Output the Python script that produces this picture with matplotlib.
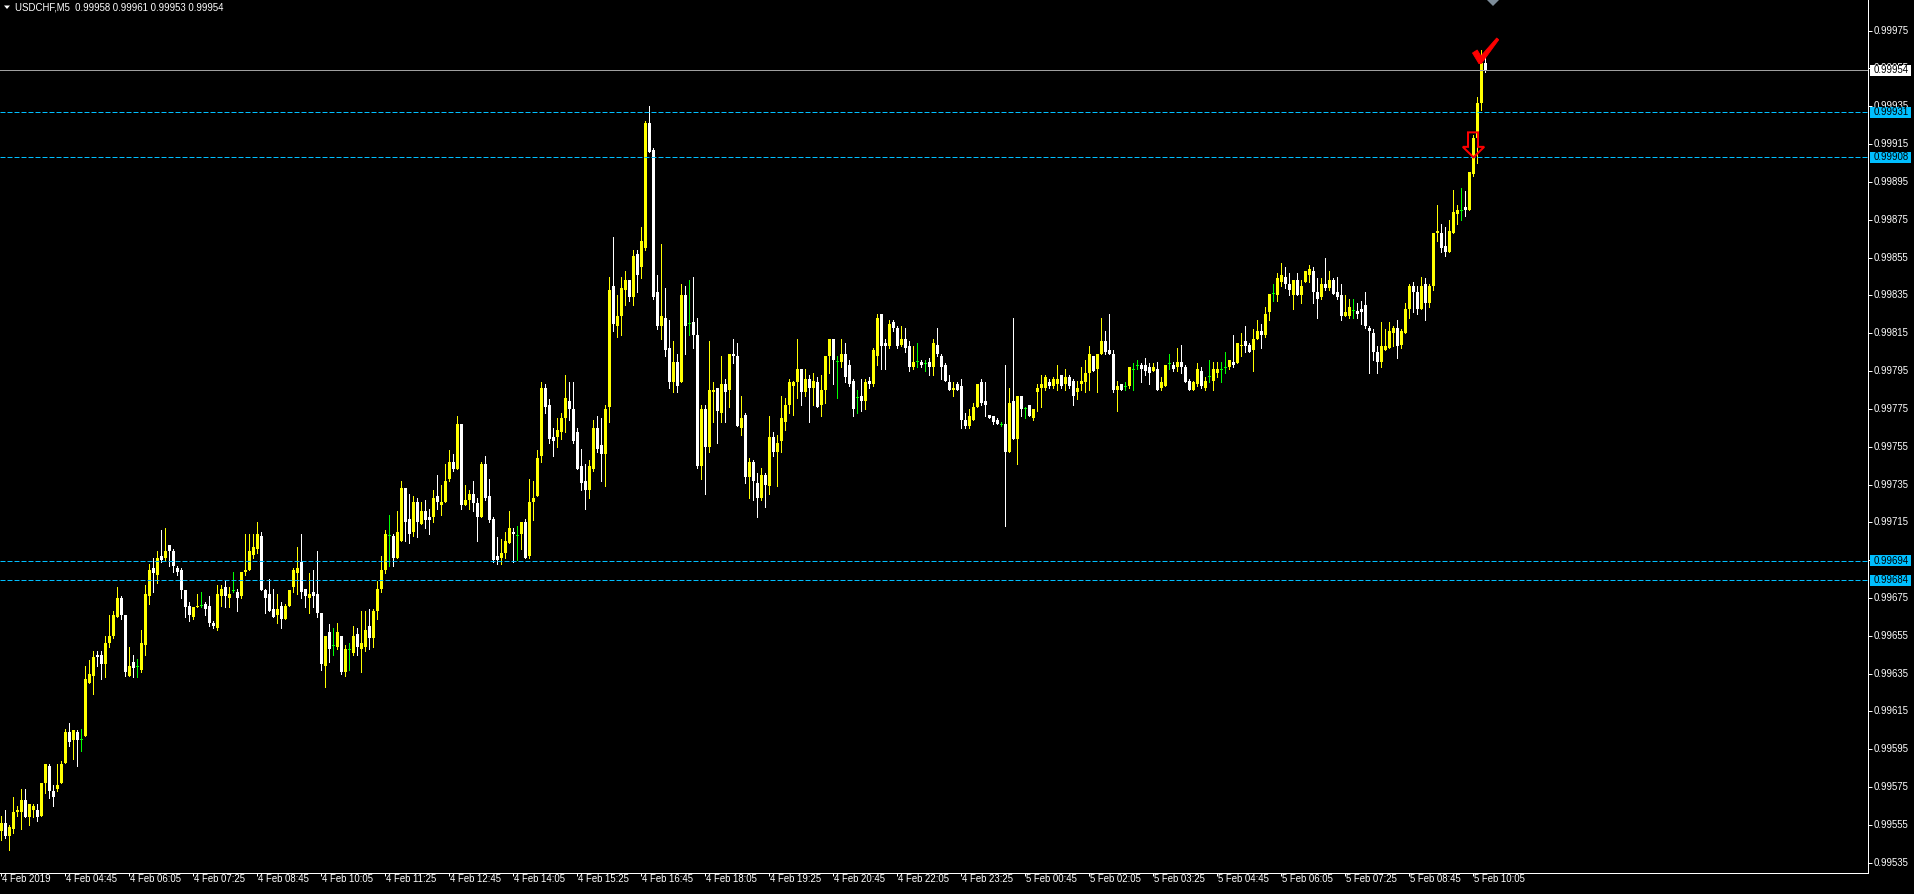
import matplotlib
matplotlib.use("Agg")
import matplotlib.pyplot as plt
from matplotlib.patches import Polygon, Rectangle
from matplotlib.transforms import IdentityTransform, blended_transform_factory
import numpy as np

plt.rcParams['font.family'] = ['Liberation Sans', 'DejaVu Sans']

# ---------------- data ----------------
symbol_title = "USDCHF,M5  0.99958 0.99961 0.99953 0.99954"

opens = [
 0.99552,0.99556,0.99549,0.99553,0.99562,0.99562,0.99568,0.99559,0.99563,0.99563,
 0.99560,0.99577,0.99586,0.99573,0.99574,0.99577,0.99588,0.99604,0.99600,0.99604,
 0.99600,0.99602,0.99630,0.99634,0.99645,0.99645,0.99640,0.99651,0.99655,0.99665,
 0.99675,0.99666,0.99634,0.99641,0.99639,0.99637,0.99650,0.99676,0.99691,0.99687,
 0.99697,0.99696,0.99703,0.99700,0.99691,0.99690,0.99679,0.99671,0.99665,0.99670,
 0.99671,0.99672,0.99671,0.99662,0.99659,0.99676,0.99681,0.99675,0.99679,0.99678,
 0.99676,0.99689,0.99690,0.99698,0.99701,0.99708,0.99679,0.99677,0.99669,0.99666,
 0.99671,0.99664,0.99671,0.99681,0.99688,0.99694,0.99680,0.99675,0.99678,0.99677,
 0.99667,0.99639,0.99657,0.99650,0.99649,0.99655,0.99636,0.99648,0.99646,0.99656,
 0.99648,0.99649,0.99660,0.99654,0.99668,0.99680,0.99690,0.99708,0.99708,0.99696,
 0.99705,0.99733,0.99717,0.99710,0.99726,0.99714,0.99721,0.99718,0.99718,0.99729,
 0.99724,0.99726,0.99738,0.99747,0.99743,0.99767,0.99724,0.99727,0.99730,0.99725,
 0.99718,0.99746,0.99729,0.99717,0.99697,0.99696,0.99699,0.99704,0.99710,0.99708,
 0.99709,0.99715,0.99697,0.99726,0.99729,0.99750,0.99786,0.99777,0.99760,0.99760,
 0.99763,0.99770,0.99779,0.99775,0.99763,0.99745,0.99737,0.99732,0.99743,0.99765,
 0.99756,0.99751,0.99776,0.99840,0.99819,0.99824,0.99838,0.99843,0.99834,0.99857,
 0.99850,0.99860,0.99926,0.99912,0.99837,0.99819,0.99823,0.99807,0.99789,0.99800,
 0.99789,0.99835,0.99820,0.99821,0.99814,0.99745,0.99775,0.99755,0.99784,0.99786,
 0.99773,0.99788,0.99785,0.99804,0.99803,0.99765,0.99772,0.99739,0.99747,0.99736,
 0.99728,0.99740,0.99734,0.99760,0.99752,0.99758,0.99768,0.99777,0.99787,0.99789,
 0.99796,0.99784,0.99791,0.99786,0.99789,0.99777,0.99785,0.99803,0.99812,0.99800,
 0.99800,0.99804,0.99798,0.99790,0.99781,0.99782,0.99779,0.99790,0.99788,0.99803,
 0.99825,0.99810,0.99808,0.99821,0.99818,0.99809,0.99812,0.99808,0.99797,0.99800,
 0.99800,0.99799,0.99800,0.99797,0.99809,0.99803,0.99798,0.99789,0.99785,0.99788,
 0.99787,0.99769,0.99766,0.99769,0.99776,0.99789,0.99779,0.99772,0.99771,0.99769,
 0.99767,0.99767,0.99752,0.99779,0.99759,0.99782,0.99775,0.99777,0.99770,0.99784,
 0.99786,0.99786,0.99789,0.99787,0.99788,0.99793,0.99788,0.99792,0.99790,0.99784,
 0.99788,0.99789,0.99794,0.99803,0.99796,0.99804,0.99811,0.99806,0.99804,0.99785,
 0.99788,0.99787,0.99787,0.99796,0.99798,0.99798,0.99798,0.99797,0.99795,0.99796,
 0.99786,0.99787,0.99799,0.99798,0.99797,0.99800,0.99797,0.99790,0.99785,0.99788,
 0.99795,0.99786,0.99792,0.99790,0.99794,0.99796,0.99797,0.99797,0.99800,0.99799,
 0.99808,0.99811,0.99809,0.99806,0.99812,0.99816,0.99814,0.99826,0.99836,0.99835,
 0.99842,0.99845,0.99841,0.99835,0.99843,0.99835,0.99842,0.99846,0.99848,0.99837,
 0.99834,0.99841,0.99839,0.99843,0.99837,0.99835,0.99824,0.99824,0.99827,0.99827,
 0.99828,0.99830,0.99818,0.99815,0.99805,0.99800,0.99806,0.99807,0.99815,0.99818,
 0.99809,0.99815,0.99828,0.99840,0.99837,0.99828,0.99841,0.99831,0.99840,0.99868,
 0.99868,0.99861,0.99858,0.99868,0.99878,0.99880,0.99882,0.99880,0.99899,0.99918,
 0.99937,0.99958]

highs = [
 0.99560,0.99563,0.99555,0.99570,0.99565,0.99574,0.99574,0.99566,0.99566,0.99566,
 0.99577,0.99587,0.99587,0.99576,0.99587,0.99589,0.99606,0.99609,0.99605,0.99605,
 0.99606,0.99639,0.99642,0.99647,0.99647,0.99647,0.99655,0.99666,0.99668,0.99681,
 0.99676,0.99666,0.99649,0.99645,0.99643,0.99658,0.99682,0.99693,0.99696,0.99700,
 0.99711,0.99712,0.99703,0.99701,0.99692,0.99691,0.99679,0.99673,0.99670,0.99677,
 0.99678,0.99673,0.99676,0.99663,0.99682,0.99682,0.99684,0.99681,0.99689,0.99680,
 0.99689,0.99709,0.99709,0.99709,0.99715,0.99710,0.99680,0.99685,0.99680,0.99677,
 0.99673,0.99672,0.99679,0.99691,0.99702,0.99709,0.99680,0.99688,0.99690,0.99700,
 0.99667,0.99655,0.99661,0.99659,0.99662,0.99655,0.99650,0.99651,0.99660,0.99659,
 0.99668,0.99668,0.99669,0.99669,0.99684,0.99697,0.99711,0.99719,0.99709,0.99721,
 0.99737,0.99733,0.99730,0.99729,0.99728,0.99726,0.99727,0.99722,0.99732,0.99740,
 0.99735,0.99746,0.99753,0.99751,0.99771,0.99767,0.99735,0.99732,0.99737,0.99728,
 0.99747,0.99750,0.99738,0.99718,0.99707,0.99706,0.99710,0.99721,0.99712,0.99713,
 0.99715,0.99717,0.99738,0.99737,0.99753,0.99789,0.99788,0.99780,0.99765,0.99770,
 0.99773,0.99793,0.99789,0.99789,0.99765,0.99754,0.99746,0.99748,0.99769,0.99771,
 0.99770,0.99777,0.99845,0.99866,0.99835,0.99845,0.99848,0.99843,0.99859,0.99859,
 0.99871,0.99927,0.99935,0.99913,0.99846,0.99862,0.99839,0.99822,0.99811,0.99804,
 0.99841,0.99840,0.99843,0.99845,0.99823,0.99777,0.99777,0.99811,0.99789,0.99786,
 0.99803,0.99791,0.99804,0.99812,0.99810,0.99782,0.99773,0.99749,0.99748,0.99741,
 0.99744,0.99741,0.99771,0.99763,0.99761,0.99782,0.99781,0.99791,0.99790,0.99812,
 0.99796,0.99796,0.99793,0.99794,0.99792,0.99793,0.99803,0.99812,0.99812,0.99803,
 0.99812,0.99810,0.99801,0.99791,0.99785,0.99791,0.99791,0.99792,0.99807,0.99825,
 0.99825,0.99812,0.99822,0.99822,0.99819,0.99819,0.99818,0.99811,0.99808,0.99810,
 0.99801,0.99801,0.99802,0.99812,0.99818,0.99804,0.99799,0.99793,0.99789,0.99789,
 0.99791,0.99773,0.99775,0.99778,0.99788,0.99791,0.99789,0.99772,0.99771,0.99770,
 0.99768,0.99798,0.99786,0.99823,0.99782,0.99782,0.99776,0.99777,0.99775,0.99788,
 0.99793,0.99793,0.99791,0.99792,0.99798,0.99793,0.99796,0.99793,0.99791,0.99790,
 0.99797,0.99801,0.99808,0.99803,0.99804,0.99823,0.99816,0.99825,0.99806,0.99790,
 0.99788,0.99789,0.99797,0.99799,0.99801,0.99799,0.99802,0.99799,0.99799,0.99800,
 0.99792,0.99798,0.99804,0.99800,0.99807,0.99809,0.99798,0.99791,0.99790,0.99799,
 0.99797,0.99792,0.99801,0.99800,0.99800,0.99800,0.99805,0.99801,0.99814,0.99810,
 0.99815,0.99819,0.99810,0.99817,0.99822,0.99820,0.99829,0.99836,0.99841,0.99847,
 0.99852,0.99850,0.99847,0.99843,0.99847,0.99843,0.99848,0.99851,0.99850,0.99844,
 0.99844,0.99855,0.99848,0.99844,0.99845,0.99841,0.99835,0.99833,0.99833,0.99831,
 0.99832,0.99837,0.99819,0.99817,0.99808,0.99821,0.99817,0.99821,0.99819,0.99822,
 0.99817,0.99831,0.99841,0.99842,0.99840,0.99845,0.99844,0.99841,0.99868,0.99883,
 0.99873,0.99871,0.99875,0.99891,0.99883,0.99892,0.99890,0.99900,0.99920,0.99940,
 0.99965,0.99961]

lows = [
 0.99547,0.99548,0.99542,0.99551,0.99560,0.99553,0.99559,0.99555,0.99559,0.99557,
 0.99560,0.99572,0.99569,0.99565,0.99573,0.99577,0.99588,0.99597,0.99590,0.99586,
 0.99594,0.99602,0.99630,0.99624,0.99639,0.99632,0.99633,0.99649,0.99654,0.99665,
 0.99664,0.99634,0.99634,0.99633,0.99633,0.99636,0.99645,0.99672,0.99678,0.99683,
 0.99694,0.99695,0.99692,0.99689,0.99687,0.99675,0.99665,0.99663,0.99664,0.99670,
 0.99670,0.99666,0.99660,0.99659,0.99658,0.99671,0.99670,0.99670,0.99678,0.99668,
 0.99675,0.99687,0.99690,0.99696,0.99699,0.99679,0.99667,0.99668,0.99665,0.99662,
 0.99659,0.99664,0.99671,0.99678,0.99677,0.99675,0.99670,0.99667,0.99670,0.99665,
 0.99637,0.99628,0.99641,0.99645,0.99648,0.99635,0.99634,0.99637,0.99645,0.99645,
 0.99636,0.99647,0.99648,0.99649,0.99664,0.99678,0.99688,0.99692,0.99692,0.99696,
 0.99705,0.99705,0.99704,0.99708,0.99707,0.99714,0.99712,0.99709,0.99715,0.99722,
 0.99719,0.99726,0.99737,0.99742,0.99743,0.99722,0.99724,0.99722,0.99721,0.99705,
 0.99718,0.99727,0.99715,0.99694,0.99693,0.99693,0.99696,0.99704,0.99694,0.99695,
 0.99701,0.99696,0.99696,0.99716,0.99729,0.99747,0.99773,0.99757,0.99750,0.99755,
 0.99759,0.99763,0.99769,0.99757,0.99743,0.99732,0.99722,0.99728,0.99742,0.99752,
 0.99737,0.99734,0.99768,0.99816,0.99813,0.99814,0.99830,0.99832,0.99830,0.99837,
 0.99844,0.99859,0.99911,0.99833,0.99817,0.99812,0.99803,0.99786,0.99784,0.99784,
 0.99789,0.99804,0.99814,0.99807,0.99744,0.99738,0.99730,0.99752,0.99768,0.99757,
 0.99768,0.99768,0.99776,0.99799,0.99766,0.99761,0.99736,0.99728,0.99727,0.99718,
 0.99727,0.99723,0.99730,0.99750,0.99734,0.99752,0.99764,0.99773,0.99772,0.99781,
 0.99777,0.99782,0.99768,0.99777,0.99776,0.99771,0.99778,0.99794,0.99788,0.99781,
 0.99797,0.99789,0.99787,0.99771,0.99773,0.99774,0.99775,0.99786,0.99787,0.99798,
 0.99796,0.99796,0.99807,0.99816,0.99807,0.99808,0.99805,0.99795,0.99796,0.99797,
 0.99797,0.99795,0.99793,0.99793,0.99803,0.99791,0.99790,0.99785,0.99782,0.99785,
 0.99765,0.99765,0.99765,0.99769,0.99776,0.99777,0.99771,0.99770,0.99767,0.99767,
 0.99766,0.99713,0.99752,0.99759,0.99746,0.99771,0.99770,0.99771,0.99769,0.99774,
 0.99776,0.99785,0.99786,0.99786,0.99785,0.99786,0.99785,0.99786,0.99777,0.99780,
 0.99785,0.99784,0.99785,0.99795,0.99784,0.99804,0.99804,0.99804,0.99784,0.99774,
 0.99785,0.99785,0.99786,0.99785,0.99796,0.99789,0.99793,0.99788,0.99795,0.99785,
 0.99785,0.99787,0.99796,0.99795,0.99795,0.99794,0.99789,0.99785,0.99785,0.99787,
 0.99786,0.99785,0.99789,0.99785,0.99792,0.99789,0.99794,0.99796,0.99797,0.99799,
 0.99803,0.99805,0.99805,0.99795,0.99812,0.99807,0.99813,0.99822,0.99832,0.99832,
 0.99840,0.99839,0.99835,0.99828,0.99835,0.99831,0.99842,0.99842,0.99831,0.99823,
 0.99833,0.99838,0.99838,0.99836,0.99833,0.99822,0.99824,0.99823,0.99823,0.99823,
 0.99820,0.99818,0.99794,0.99801,0.99794,0.99797,0.99806,0.99807,0.99808,0.99802,
 0.99807,0.99815,0.99823,0.99826,0.99825,0.99828,0.99822,0.99829,0.99838,0.99864,
 0.99858,0.99856,0.99858,0.99868,0.99873,0.99875,0.99877,0.99880,0.99898,0.99905,
 0.99933,0.99953]

closes = [
 0.99556,0.99549,0.99554,0.99562,0.99563,0.99568,0.99559,0.99566,0.99565,0.99559,
 0.99577,0.99587,0.99573,0.99570,0.99576,0.99587,0.99604,0.99599,0.99605,0.99600,
 0.99600,0.99632,0.99635,0.99644,0.99644,0.99640,0.99651,0.99655,0.99666,0.99675,
 0.99666,0.99636,0.99639,0.99638,0.99639,0.99651,0.99677,0.99690,0.99688,0.99696,
 0.99695,0.99700,0.99700,0.99692,0.99689,0.99679,0.99670,0.99666,0.99670,0.99671,
 0.99671,0.99669,0.99662,0.99660,0.99677,0.99680,0.99676,0.99677,0.99679,0.99675,
 0.99689,0.99690,0.99700,0.99702,0.99709,0.99679,0.99675,0.99668,0.99665,0.99669,
 0.99664,0.99671,0.99679,0.99690,0.99691,0.99678,0.99676,0.99677,0.99676,0.99667,
 0.99640,0.99655,0.99648,0.99650,0.99657,0.99636,0.99648,0.99648,0.99655,0.99649,
 0.99651,0.99658,0.99654,0.99668,0.99680,0.99690,0.99709,0.99708,0.99696,0.99710,
 0.99733,0.99715,0.99709,0.99726,0.99715,0.99721,0.99716,0.99716,0.99728,0.99726,
 0.99726,0.99737,0.99747,0.99743,0.99767,0.99724,0.99727,0.99730,0.99725,0.99718,
 0.99746,0.99728,0.99716,0.99695,0.99695,0.99699,0.99705,0.99712,0.99709,0.99708,
 0.99715,0.99696,0.99726,0.99728,0.99749,0.99786,0.99776,0.99759,0.99758,0.99764,
 0.99770,0.99781,0.99775,0.99758,0.99743,0.99736,0.99732,0.99745,0.99765,0.99754,
 0.99751,0.99775,0.99838,0.99820,0.99824,0.99839,0.99843,0.99834,0.99856,0.99846,
 0.99864,0.99926,0.99911,0.99834,0.99819,0.99824,0.99806,0.99789,0.99800,0.99787,
 0.99835,0.99819,0.99820,0.99814,0.99745,0.99775,0.99755,0.99785,0.99785,0.99774,
 0.99788,0.99784,0.99804,0.99803,0.99766,0.99770,0.99739,0.99747,0.99737,0.99728,
 0.99740,0.99735,0.99760,0.99752,0.99757,0.99770,0.99777,0.99789,0.99789,0.99796,
 0.99784,0.99791,0.99786,0.99790,0.99776,0.99785,0.99803,0.99812,0.99801,0.99800,
 0.99804,0.99792,0.99788,0.99775,0.99781,0.99779,0.99789,0.99788,0.99806,0.99823,
 0.99808,0.99808,0.99820,0.99818,0.99808,0.99812,0.99807,0.99797,0.99800,0.99800,
 0.99798,0.99799,0.99797,0.99810,0.99804,0.99797,0.99790,0.99785,0.99786,0.99785,
 0.99769,0.99766,0.99771,0.99776,0.99788,0.99778,0.99777,0.99770,0.99768,0.99767,
 0.99767,0.99752,0.99778,0.99759,0.99782,0.99775,0.99775,0.99771,0.99775,0.99786,
 0.99788,0.99792,0.99787,0.99791,0.99791,0.99787,0.99792,0.99787,0.99782,0.99786,
 0.99790,0.99794,0.99804,0.99795,0.99804,0.99811,0.99805,0.99804,0.99785,0.99787,
 0.99785,0.99787,0.99797,0.99796,0.99798,0.99796,0.99795,0.99794,0.99797,0.99785,
 0.99789,0.99798,0.99799,0.99796,0.99800,0.99797,0.99789,0.99785,0.99789,0.99796,
 0.99787,0.99790,0.99792,0.99796,0.99796,0.99796,0.99797,0.99801,0.99798,0.99810,
 0.99809,0.99808,0.99805,0.99812,0.99816,0.99814,0.99825,0.99836,0.99836,0.99844,
 0.99846,0.99841,0.99838,0.99843,0.99835,0.99840,0.99848,0.99849,0.99837,0.99833,
 0.99841,0.99839,0.99843,0.99836,0.99834,0.99824,0.99826,0.99829,0.99827,0.99825,
 0.99826,0.99819,0.99816,0.99805,0.99800,0.99808,0.99808,0.99816,0.99818,0.99808,
 0.99816,0.99828,0.99840,0.99837,0.99828,0.99840,0.99831,0.99840,0.99868,0.99869,
 0.99860,0.99858,0.99869,0.99879,0.99880,0.99880,0.99880,0.99900,0.99918,0.99937,
 0.99958,0.99954]

time_label_bars = [0, 16, 32, 48, 64, 80, 96, 112, 128, 144, 160, 176,
                   192, 208, 224, 240, 256, 272, 288, 304, 320, 336, 352, 368]
time_labels = ["4 Feb 2019", "4 Feb 04:45", "4 Feb 06:05", "4 Feb 07:25", "4 Feb 08:45",
               "4 Feb 10:05", "4 Feb 11:25", "4 Feb 12:45", "4 Feb 14:05", "4 Feb 15:25",
               "4 Feb 16:45", "4 Feb 18:05", "4 Feb 19:25", "4 Feb 20:45", "4 Feb 22:05",
               "4 Feb 23:25", "5 Feb 00:45", "5 Feb 02:05", "5 Feb 03:25", "5 Feb 04:45",
               "5 Feb 06:05", "5 Feb 07:25", "5 Feb 08:45", "5 Feb 10:05"]

price_ticks = [0.99535, 0.99555, 0.99575, 0.99595, 0.99615, 0.99635, 0.99655, 0.99675,
               0.99695, 0.99715, 0.99735, 0.99755, 0.99775, 0.99795, 0.99815, 0.99835,
               0.99855, 0.99875, 0.99895, 0.99915, 0.99935, 0.99955, 0.99975]

bid_price = 0.99954
# horizontal line objects: exact price and the (truncated) label MT4 shows
level_prices = [0.999318, 0.999080, 0.996946, 0.996843]
level_texts = ["0.99931", "0.99908", "0.99694", "0.99684"]

check_bar, check_price = 370, 0.99958       # red check mark object
arrow_bar, arrow_price = 368, 0.99908       # red down-arrow object

# ---------------- figure ----------------
W, H = 1915, 894
AX_W, AX_H, AX_B = 1868, 873, 21
BAR_PX = 4
Y_MIN, Y_MAX = 0.995296, 0.999912

fig = plt.figure(figsize=(W / 100, H / 100), dpi=100, facecolor='black')
ax = fig.add_axes([0, AX_B / H, AX_W / W, AX_H / H])
ax.set_facecolor('black')
x_left = -1.5 / BAR_PX
ax.set_xlim(x_left, x_left + AX_W / BAR_PX)
ax.set_ylim(Y_MIN, Y_MAX)
one_px = (Y_MAX - Y_MIN) / AX_H

o = np.array(opens); hi = np.array(highs); lo = np.array(lows); c = np.array(closes)
x = np.arange(len(o))
hi = np.maximum(hi, np.maximum(o, c))
lo = np.minimum(lo, np.minimum(o, c))
up = c > o
down = c < o
cols = np.where(up, '#ffff00', np.where(down, '#ffffff', '#00ff00'))

ax.vlines(x, lo, hi, colors=cols, linewidth=0.72, antialiased=False, zorder=2)
body_h = np.maximum(np.abs(c - o), one_px)
body_b = np.where(np.abs(c - o) < one_px, np.minimum(o, c) - one_px / 2, np.minimum(o, c))
ax.bar(x, body_h, bottom=body_b, width=0.75, color=cols, linewidth=0,
       antialiased=False, zorder=3)

ax.axhline(bid_price, color='#a0a0a0', lw=0.72, zorder=4)
for lv in level_prices:
    ax.axhline(lv, color='#00bfff', lw=0.72, dashes=(5, 2), zorder=4)

for s in ['left', 'top']:
    ax.spines[s].set_visible(False)
for s in ['right', 'bottom']:
    ax.spines[s].set_color('white')
    ax.spines[s].set_linewidth(0.72)

ax.set_xticks(time_label_bars)
ax.tick_params(axis='x', colors='white', length=3 * 0.72, width=0.72,
               direction='out', labelbottom=False)
ax.yaxis.tick_right()
ax.set_yticks(price_ticks)
ax.tick_params(axis='y', colors='white', length=4 * 0.72, width=0.72,
               direction='out', labelright=False, labelleft=False)

FS = 6.9
trans_x = blended_transform_factory(ax.transData, IdentityTransform())
for b, lab in zip(time_label_bars, time_labels):
    ax.text(b + 0.1, AX_B - 0.8, lab, transform=trans_x, ha='left', va='top',
            color='white', fontsize=FS, clip_on=False)

trans_y = blended_transform_factory(IdentityTransform(), ax.transData)
for p in price_ticks:
    ax.text(AX_W + 6, p, f'{p:.5f}', transform=trans_y, ha='left', va='center',
            color='white', fontsize=FS, clip_on=False, zorder=3)

def level_label(price, text, face):
    ax.add_patch(Rectangle((AX_W + 2, price - 5.5 * one_px), 41, 11 * one_px,
                           transform=trans_y, facecolor=face, edgecolor='none',
                           clip_on=False, zorder=6))
    ax.text(AX_W + 6, price, text, transform=trans_y, ha='left', va='center',
            color='black', fontsize=FS, clip_on=False, zorder=7)

for lv, lt in zip(level_prices, level_texts):
    level_label(lv, lt, '#00bfff')
level_label(bid_price, f'{bid_price:.5f}', '#ffffff')

# title
fig.text(15, H - 7.5, symbol_title, transform=IdentityTransform(), color='white',
         fontsize=FS, ha='left', va='center')
fig.add_artist(Polygon([[4, H - 5.5], [10, H - 5.5], [7, H - 9]], closed=True,
                       facecolor='white', edgecolor='none', transform=IdentityTransform()))

# chart-shift marker at top
fig.add_artist(Polygon([[1487, H], [1499, H], [1493, H - 6]], closed=True,
                       facecolor='#7d8c99', edgecolor='none', transform=IdentityTransform()))

# red check mark object
cx, cy = ax.transData.transform((check_bar, check_price))
check_shape = [(-9.0, -9.8), (-4.3, -12.8), (-0.6, -6.8), (15.2, -24.8),
               (17.2, -23.0), (-0.2, 0.8), (-2.6, 0.8)]
fig.add_artist(Polygon([[cx + dx, cy - dy] for dx, dy in check_shape], closed=True,
                       facecolor='#ff0000', edgecolor='#ff0000', lw=0.6,
                       transform=IdentityTransform()))

# red down arrow object
axx, axy = ax.transData.transform((arrow_bar, arrow_price))
arrow_shape = [(-5.5, -25), (4.5, -25), (4.5, -10.5), (10.7, -10.5), (0, 0),
               (-10.7, -10.5), (-5.5, -10.5)]
fig.add_artist(Polygon([[axx + dx, axy - dy] for dx, dy in arrow_shape], closed=True,
                       facecolor='none', edgecolor='#ff0000', lw=1.44, joinstyle='miter',
                       transform=IdentityTransform()))

fig.savefig('out.png', dpi=100, facecolor='black')
